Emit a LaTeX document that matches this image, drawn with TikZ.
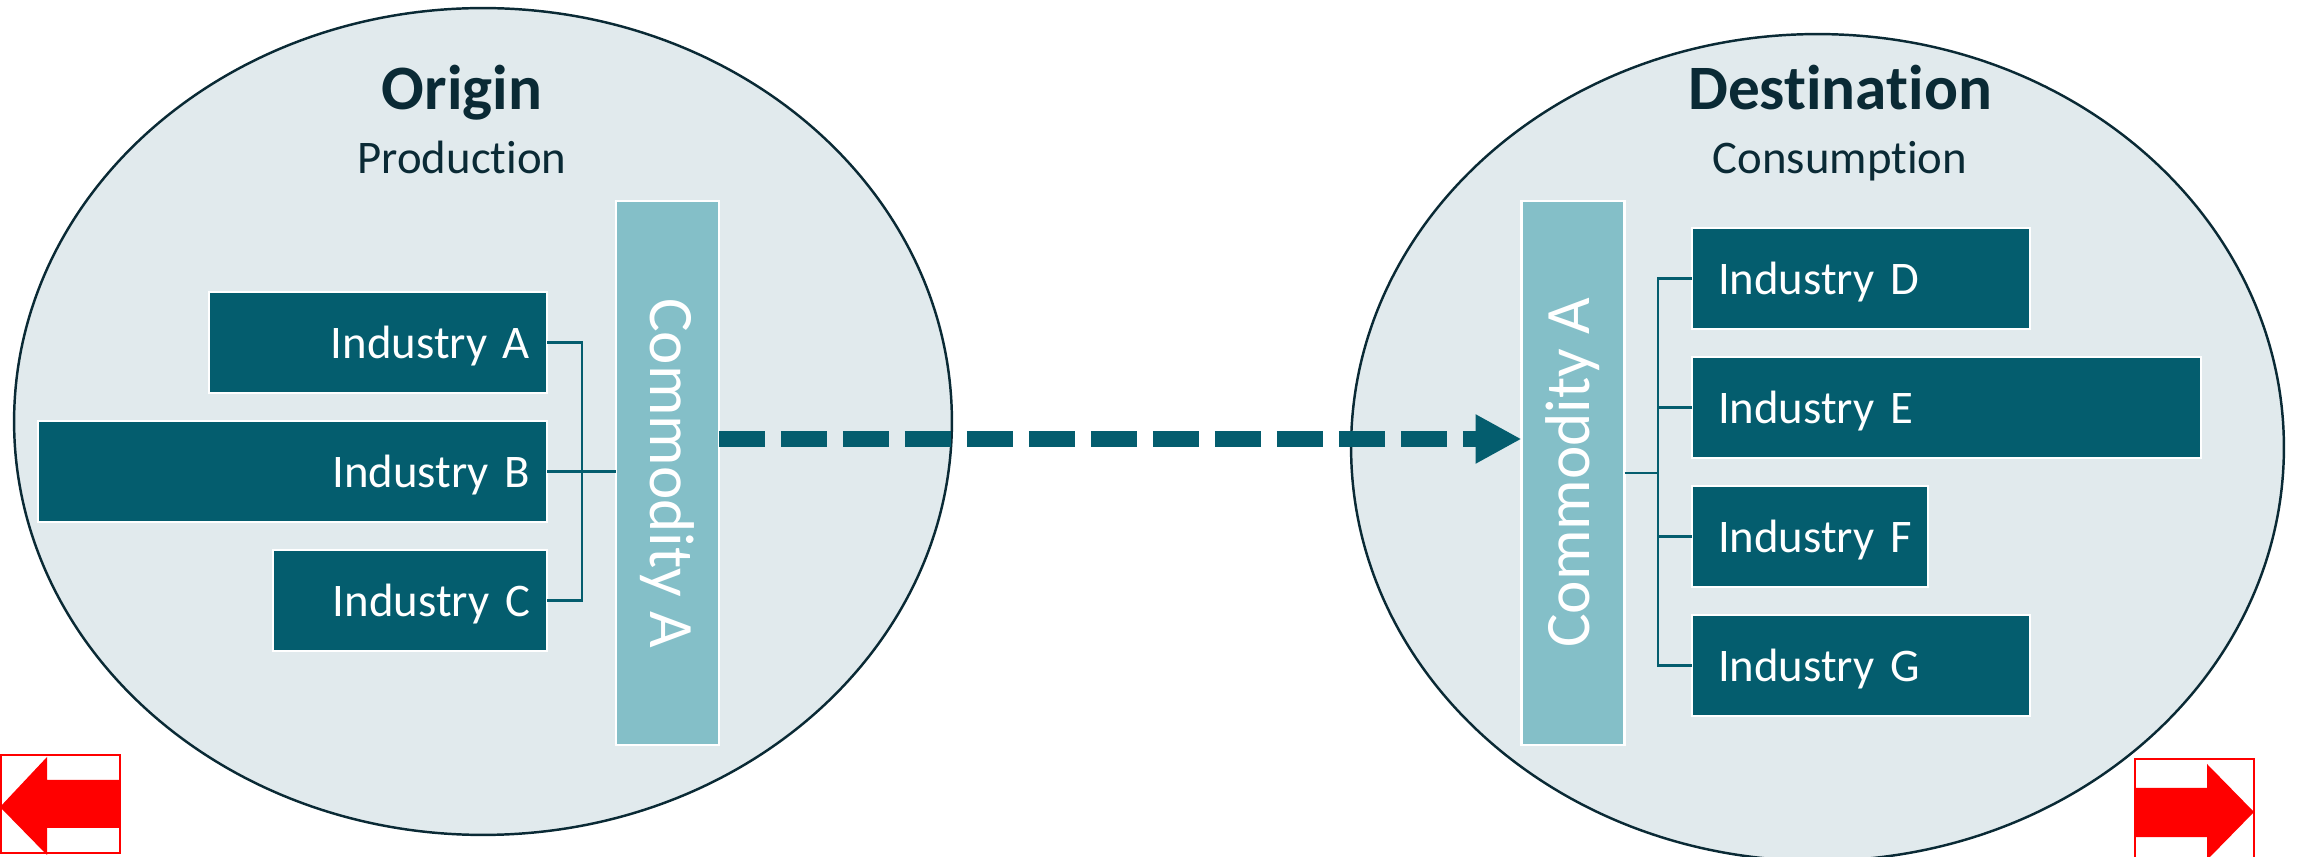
\documentclass[tikz,border=0pt]{standalone}
\usepackage{fontspec}
\setmainfont{Carlito}[Ligatures=NoCommon]
\usetikzlibrary{positioning,arrows.meta}
\definecolor{boxteal}{HTML}{045D6E}
\definecolor{barteal}{HTML}{84BFC8}
\definecolor{cloud}{HTML}{E1EAED}
\definecolor{ink}{HTML}{0A2A35}
\tikzset{
  region/.style={fill=cloud,draw=ink,line width=1.4pt},
  heading/.style={text=ink,anchor=base,font=\bfseries\fontsize{36}{40}\selectfont},
  subheading/.style={text=ink,anchor=base,font=\fontsize{26.6}{30}\selectfont},
  industry/.style={fill=boxteal,draw=white,line width=1.2pt,text=white,outer sep=0pt,
    minimum height=2.02cm,inner ysep=0pt,text depth=0pt,font=\fontsize{26.6}{30}\selectfont},
  supply/.style={industry,align=right,inner xsep=0.34cm},
  demand/.style={industry,align=left,inner xsep=0.52cm},
  commodity/.style={fill=barteal,draw=white,line width=1.2pt,text=white,inner sep=0pt,outer sep=0pt,
    minimum width=2.06cm,minimum height=10.88cm,font=\fontsize{36}{40}\selectfont},
  link/.style={draw=boxteal,line width=1.6pt},
  flow/.style={draw=boxteal,line width=0.32cm,dash pattern=on 0.92cm off 0.32cm,
    -{Triangle[length=0.92cm,width=0.92cm]}},
  nav/.style={draw=red,line width=1.2pt}
}

\begin{document}
\begin{tikzpicture}[x=0.02cm,y=-0.02cm]
   \useasboundingbox (0,0) rectangle (2303,857);
   \draw[region] (483,421.5) ellipse [x radius=9.38cm, y radius=8.27cm];
   \draw[region] (1817.5,447.5) ellipse [x radius=9.33cm, y radius=8.27cm];

   \node[heading] (orgT) at (462,110) {Origin};
   \node[subheading] (orgS) at (462,174) {Production};
   \node[heading] (dstT) at (1840,110) {Destination};
   \node[subheading] (dstS) at (1840,174) {Consumption};

   \node[commodity] (coml) at (667.5,473) {\rotatebox{-90}{Commodity A}};
   \node[commodity] (comr) at (1573,473) {\rotatebox{90}{Commodity A}};

   \node[supply,text width=6.08cm,anchor=north east] (indA) at (547,292) {Industry~A};
   \node[supply,text width=9.50cm,below=0.56cm of indA.south east,anchor=north east] (indB) {Industry~B};
   \node[supply,text width=4.80cm,below=0.56cm of indB.south east,anchor=north east] (indC) {Industry~C};

   \node[demand,text width=5.72cm,anchor=north west] (indD) at (1692,228) {Industry~D};
   \node[demand,text width=9.14cm,below=0.56cm of indD.south west,anchor=north west] (indE) {Industry~E};
   \node[demand,text width=3.68cm,below=0.56cm of indE.south west,anchor=north west] (indF) {Industry~F};
   \node[demand,text width=5.72cm,below=0.56cm of indF.south west,anchor=north west] (indG) {Industry~G};

   \draw[link] (indA.east) -- ++(0.7cm,0) |- (indC.east);
   \draw[link] (indB.east) -- (indB.east -| coml.west);
   \draw[link] (indD.west) -- ++(-0.68cm,0) |- (indG.west);
   \draw[link] (indE.west) -- ++(-0.68cm,0);
   \draw[link] (indF.west) -- ++(-0.68cm,0);
   \draw[link] (comr.east) -- ++(0.68cm,0);

   \draw[flow] ([yshift=0.68cm]coml.east) -- ([yshift=0.68cm]comr.west);

   \draw[nav] (1,755) rectangle (120,853);
   \fill[red] (0,807) -- (47,757) -- (47,780) -- (120,780) -- (120,828) -- (47,828) -- (47,855) -- cycle;
   \draw[nav] (2135,759) rectangle (2254,860);
   \fill[red] (2135,788) -- (2207,788) -- (2207,764) -- (2254,812) -- (2207,860) -- (2207,837) -- (2135,837) -- cycle;
\end{tikzpicture}
\end{document}
